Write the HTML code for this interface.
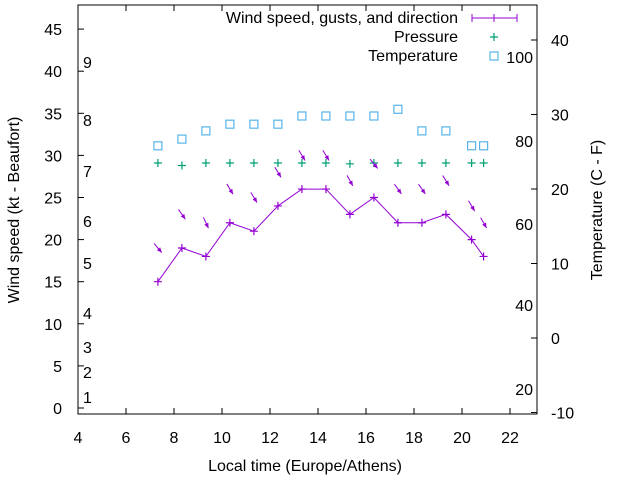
<!DOCTYPE html>
<html><head><meta charset="utf-8"><style>
body{margin:0;background:#fff}
svg{display:block;font-family:"Liberation Sans",sans-serif;font-size:16px}
</style></head><body>
<svg id="chart" width="640" height="480" viewBox="0 0 640 480" xmlns="http://www.w3.org/2000/svg">
</svg>
<script>
const times=[7.33,8.33,9.33,10.33,11.33,12.33,13.33,14.33,15.33,16.33,17.33,18.33,19.33,20.4,20.9];
const wind=[15,19,18,22,21,24,26,26,23,25,22,22,23,20,18];
const windDir=[320,325,335,329,329,329,329,329,331,321,324,325,328,329,330];
const pressure=[29.1,28.8,29.1,29.1,29.1,29.1,29.1,29.1,29.0,29.1,29.1,29.1,29.1,29.1,29.1];
const temperature=[25.8,26.7,27.8,28.7,28.7,28.7,29.8,29.8,29.8,29.8,30.7,27.8,27.8,25.8,25.8];
const xTicks=[4,6,8,10,12,14,16,18,20,22];
const yTicks=[0,5,10,15,20,25,30,35,40,45];
const y2Ticks=[-10,0,10,20,30,40];
const beaufort=[[1,397],[2,372],[3,347],[4,313],[5,263],[6,221],[7,171],[8,120],[9,62]];
const fahr=[[100,57],[80,141],[60,224],[40,305],[20,389]];

const L=78,R=537,T=5,B=414;
const X=v=>L+(v-4)*24;
const Y=v=>408-v*8.42;
const Y2=v=>338-v*7.45;
const svg=document.getElementById('chart');
const NS='http://www.w3.org/2000/svg';
function mk(tag,attrs,txt){const e=document.createElementNS(NS,tag);for(const k in attrs)e.setAttribute(k,attrs[k]);if(txt!==undefined)e.textContent=txt;svg.appendChild(e);return e;}

let e=mk('rect',{x:L,y:T,width:R-L,height:B-T,fill:'none',stroke:'#000','stroke-width':1});



xTicks.forEach(t=>{
  const x=X(t);
  let a=mk('path',{d:`M${x} ${B}v-6M${x} ${T}v6`,stroke:'#000'});
  
  
  let l=mk('text',{x:x,y:443,'text-anchor':'middle'},String(t));
  
  
});
yTicks.forEach(t=>{
  const y=Y(t);
  let a=mk('path',{d:`M${L} ${y}h6`,stroke:'#000'});
  
  
  let l=mk('text',{x:62,y:y+6,'text-anchor':'end'},String(t));
  
  
});
y2Ticks.forEach(t=>{
  const y=Y2(t);
  let a=mk('path',{d:`M${R} ${y}h-6`,stroke:'#000'});
  
  
  let l=mk('text',{x:551,y:y+6,'text-anchor':'start'},String(t));
  
  
});
beaufort.forEach(([v,y])=>{
  let l=mk('text',{x:83,y:y+6},String(v));
  
  
});
fahr.forEach(([v,y])=>{
  let l=mk('text',{x:533,y:y+6,'text-anchor':'end'},String(v));
  
  
});

let t1=mk('text',{x:305,y:471,'text-anchor':'middle'},'Local time (Europe/Athens)');


let t2=mk('text',{x:0,y:0,'text-anchor':'middle',transform:'translate(19,210) rotate(-90)'},'Wind speed (kt - Beaufort)');


let t3=mk('text',{x:0,y:0,'text-anchor':'middle',transform:'translate(602,210) rotate(-90)'},'Temperature (C - F)');



const purple='#9400d3',green='#009e73',blue='#56b4e9';
let ln=mk('polyline',{points:times.map((t,i)=>X(t)+','+Y(wind[i])).join(' '),fill:'none',stroke:purple,'stroke-width':1});


function cross(x,y,c,name){let p=mk('path',{d:`M${x-4} ${y}h8M${x} ${y-4}v8`,stroke:c,'stroke-width':1.2});}
times.forEach((t,i)=>cross(X(t),Y(wind[i]),purple,'wind-point'));
times.forEach((t,i)=>cross(X(t),Y(pressure[i]),green,'pressure-point'));
times.forEach((t,i)=>{
  let s=mk('rect',{x:X(t)-4,y:Y2(temperature[i])-4,width:8,height:8,fill:'none',stroke:blue,'stroke-width':1.2});
  
  
});
times.forEach((t,i)=>{
  const b=(windDir[i]+180)*Math.PI/180;
  const dx=Math.sin(b),dy=-Math.cos(b);
  const cx=X(t),cy=Y(wind[i]+4);
  const h=6;
  const x0=cx-dx*h,y0=cy-dy*h,x1=cx+dx*h,y1=cy+dy*h;
  const px=-dy,py=dx;
  let a=mk('path',{d:`M${x0} ${y0}L${x1} ${y1}`,stroke:purple,'stroke-width':1});
  
  
  let hd=mk('path',{d:`M${x1} ${y1}L${x1-dx*5+px*2.2} ${y1-dy*5+py*2.2}L${x1-dx*5-px*2.2} ${y1-dy*5-py*2.2}Z`,fill:purple});
  
  
});
let g1=mk('text',{x:458,y:23,'text-anchor':'end'},'Wind speed, gusts, and direction');


let g1l=mk('path',{d:'M472 18h45M472 14v8M494 14v8M517 14v8',stroke:purple,'stroke-width':1});


let g2=mk('text',{x:458,y:42,'text-anchor':'end'},'Pressure');


cross(494,37,green,'legend-pressure-symbol');
let g3=mk('text',{x:458,y:61,'text-anchor':'end'},'Temperature');


let g3s=mk('rect',{x:490,y:52,width:8,height:8,fill:'none',stroke:blue,'stroke-width':1.2});


</script>
</body></html>
